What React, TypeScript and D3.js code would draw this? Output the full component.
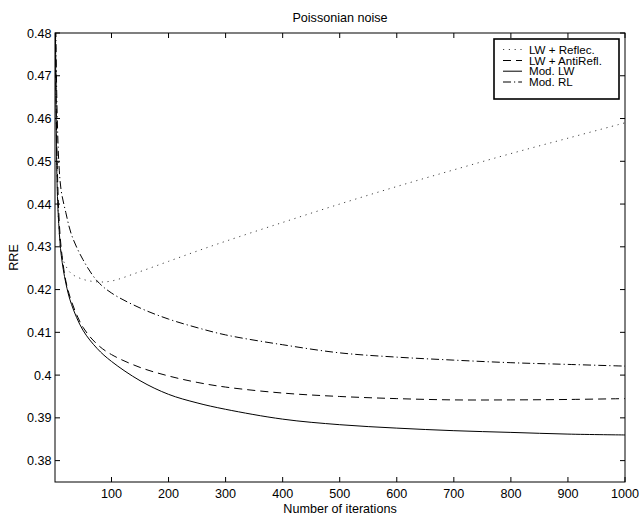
import React from "react";
import * as d3 from "d3";

const iterations = [1, 2, 3, 5, 8, 12, 20, 30, 50, 75, 100, 150, 200, 250, 300, 400, 500, 600, 700, 800, 900, 1000];
const lwReflec = [0.52, 0.48, 0.462, 0.445, 0.434, 0.4285, 0.4255, 0.4237, 0.4224, 0.4218, 0.422, 0.4242, 0.4266, 0.429, 0.4313, 0.4357, 0.44, 0.4441, 0.448, 0.4518, 0.4554, 0.459];
const lwAntiRefl = [0.52, 0.48, 0.465, 0.449, 0.437, 0.4295, 0.422, 0.4172, 0.4112, 0.4072, 0.4048, 0.4018, 0.3998, 0.3983, 0.3972, 0.3958, 0.395, 0.3945, 0.3942, 0.3942, 0.3943, 0.3945];
const modLW = [0.52, 0.475, 0.46, 0.443, 0.4345, 0.428, 0.4215, 0.4165, 0.4105, 0.4062, 0.4032, 0.3987, 0.3955, 0.3935, 0.392, 0.3897, 0.3884, 0.3876, 0.387, 0.3866, 0.3862, 0.386];
const modRL = [0.52, 0.49, 0.475, 0.46, 0.449, 0.443, 0.438, 0.4328, 0.427, 0.422, 0.4192, 0.4157, 0.4131, 0.4111, 0.4094, 0.4071, 0.4052, 0.4042, 0.4035, 0.4029, 0.4025, 0.4021];

const seriesNames = ["LW + Reflec.", "LW + AntiRefl.", "Mod. LW", "Mod. RL"];
const xTicks = [100, 200, 300, 400, 500, 600, 700, 800, 900, 1000];
const yTicks = [0.38, 0.39, 0.4, 0.41, 0.42, 0.43, 0.44, 0.45, 0.46, 0.47, 0.48];

const W = 639, H = 516;
const L = 55, R = 625, T = 33, B = 482;
const FONT = "'Liberation Sans', Arial, Helvetica, sans-serif";
const FS = 12.6;
const LFS = 11.6;

const styles = [
  { stroke: "#444", dash: "1.2,4.6", width: 1 },
  { stroke: "#000", dash: "8,5", width: 1 },
  { stroke: "#000", dash: "none", width: 1 },
  { stroke: "#000", dash: "8,3,1.2,3", width: 1 },
];

export default function App() {
  const x = d3.scaleLinear().domain([1, 1000]).range([L, R]);
  const y = d3.scaleLinear().domain([0.375, 0.48]).range([B, T]);
  const allSeries = [lwReflec, lwAntiRefl, modLW, modRL];
  const line = d3
    .line<[number, number]>()
    .x((d) => x(d[0]))
    .y((d) => y(d[1]))
    .curve(d3.curveCatmullRom.alpha(0.5));

  const legX = 494, legY = 39, legW = 125, legH = 60;
  const rowY = [49.5, 60.5, 71.2, 82];

  return (
    <svg
      width={W}
      height={H}
      style={{ position: "absolute", left: 0, top: 0, background: "#fff" }}
      fontFamily={FONT}
    >
      <rect x={0} y={0} width={W} height={H} fill="#fff" />
      <defs>
        <clipPath id="plotclip">
          <rect x={L} y={T} width={R - L} height={B - T} />
        </clipPath>
      </defs>
      <g clipPath="url(#plotclip)">
        {allSeries.map((vals, i) => (
          <path
            key={i}
            d={line(iterations.map((it, j) => [it, vals[j]] as [number, number])) || ""}
            fill="none"
            stroke={styles[i].stroke}
            strokeWidth={styles[i].width}
            strokeDasharray={styles[i].dash}
          />
        ))}
      </g>
      <rect x={L} y={T} width={R - L} height={B - T} fill="none" stroke="#000" strokeWidth={1} />
      {xTicks.map((t) => (
        <g key={"x" + t}>
          <line x1={x(t)} x2={x(t)} y1={B} y2={B - 5} stroke="#000" />
          <line x1={x(t)} x2={x(t)} y1={T} y2={T + 5} stroke="#000" />
          <text x={x(t)} y={498} textAnchor="middle" fontSize={FS} fill="#000">
            {t}
          </text>
        </g>
      ))}
      {yTicks.map((t) => (
        <g key={"y" + t}>
          <line x1={L} x2={L + 5} y1={y(t)} y2={y(t)} stroke="#000" />
          <line x1={R} x2={R - 5} y1={y(t)} y2={y(t)} stroke="#000" />
          <text x={51.5} y={y(t) + 4.5} textAnchor="end" fontSize={FS} fill="#000">
            {d3.format("")(+t.toFixed(2))}
          </text>
        </g>
      ))}
      <text x={(L + R) / 2} y={21.5} textAnchor="middle" fontSize={FS} fill="#000">
        Poissonian noise
      </text>
      <text x={(L + R) / 2} y={512.5} textAnchor="middle" fontSize={FS} fill="#000">
        Number of iterations
      </text>
      <text
        transform={`translate(18,${(T + B) / 2}) rotate(-90)`}
        textAnchor="middle"
        fontSize={FS}
        fill="#000"
      >
        RRE
      </text>
      <rect x={legX} y={legY} width={legW} height={legH} fill="#fff" stroke="#000" strokeWidth={1.6} />
      {seriesNames.map((name, i) => (
        <g key={name}>
          <line
            x1={503}
            x2={522}
            y1={rowY[i]}
            y2={rowY[i]}
            stroke={styles[i].stroke}
            strokeWidth={styles[i].width}
            strokeDasharray={styles[i].dash}
          />
          <text x={529} y={rowY[i] + 4.2} fontSize={LFS} fill="#000">
            {name}
          </text>
        </g>
      ))}
    </svg>
  );
}
